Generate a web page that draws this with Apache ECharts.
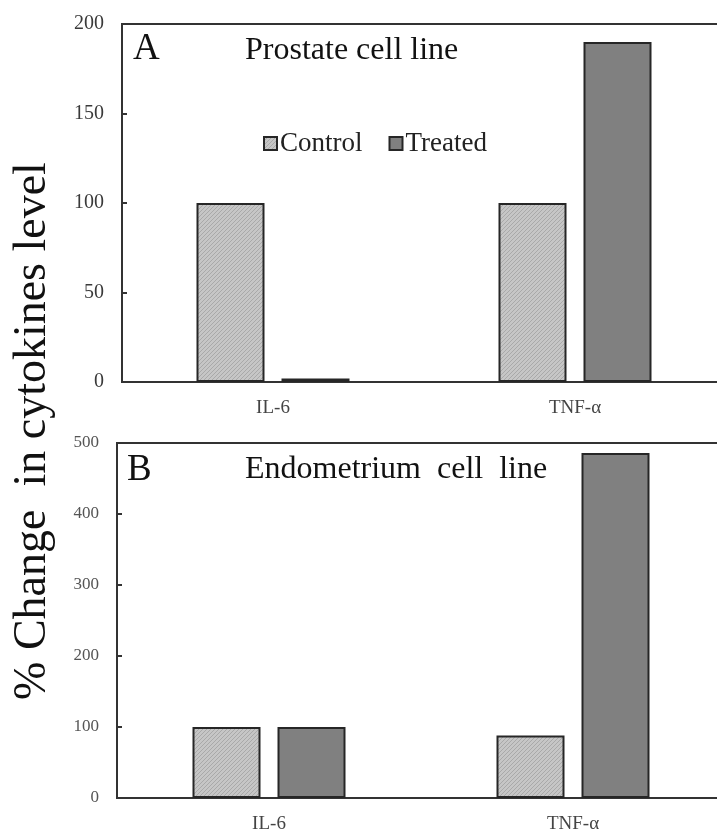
<!DOCTYPE html>
<html>
<head>
<meta charset="utf-8">
<script src="https://cdn.jsdelivr.net/npm/echarts@6/dist/echarts.min.js"></script>
<style>
html,body{margin:0;padding:0;background:#fff;}
#chart{width:717px;height:834px;}
</style>
</head>
<body>
<div id="chart"></div>
<script>
// ---- data ----
const categories = ['IL-6', 'TNF-α'];
const seriesNames = ['Control', 'Treated'];
const prostateControl = [100, 100];
const prostateTreated = [2, 190];
const endometriumControl = [100, 88];
const endometriumTreated = [100, 486];
const prostateTicks = {min: 0, max: 200, interval: 50};
const endometriumTicks = {min: 0, max: 500, interval: 100};

// ---- styling helpers ----
const SERIF = '"Liberation Serif", "Times New Roman", serif';
function hatch() {
  const c = document.createElement('canvas');
  c.width = 4; c.height = 4;
  const g = c.getContext('2d');
  g.fillStyle = '#c6c6c6';
  g.fillRect(0, 0, 4, 4);
  g.strokeStyle = '#a9a9a9';
  g.lineWidth = 1;
  g.beginPath();
  g.moveTo(0, 4); g.lineTo(4, 0);
  g.moveTo(-1, 1); g.lineTo(1, -1);
  g.moveTo(3, 5); g.lineTo(5, 3);
  g.stroke();
  return {image: c, repeat: 'repeat'};
}
const controlFill = hatch();
const treatedFill = '#808080';
const edge = '#262626';

const chart = echarts.init(document.getElementById('chart'), null, {renderer: 'canvas'});

function xAx(gi) {
  return {
    type: 'category', gridIndex: gi, data: categories,
    axisLine: {lineStyle: {color: '#333', width: 2}},
    axisTick: {show: false},
    axisLabel: {fontFamily: SERIF, fontSize: 19, color: '#444', margin: 17}
  };
}
function yAx(gi, t, fs, col) {
  return {
    type: 'value', gridIndex: gi, min: t.min, max: t.max, interval: t.interval,
    splitLine: {show: false},
    axisLine: {show: true, lineStyle: {color: '#333', width: 2}},
    axisTick: {show: true, inside: true, length: 5, lineStyle: {color: '#333', width: 2}},
    axisLabel: {fontFamily: SERIF, fontSize: fs, color: col, margin: 18}
  };
}
function bar(name, gi, data, fill) {
  return {
    name: name, type: 'bar', xAxisIndex: gi, yAxisIndex: gi, data: data,
    barWidth: 68, barGap: '25%',
    itemStyle: {color: fill, borderColor: edge, borderWidth: 2},
    emphasis: {disabled: true}
  };
}

const option = {
  animation: false,
  backgroundColor: '#fff',
  grid: [
    {left: 122, top: 24, width: 604, height: 358, outerBoundsMode: 'none', containLabel: false,
     show: true, borderColor: '#333', borderWidth: 2},
    {left: 117, top: 443, width: 608, height: 355, outerBoundsMode: 'none', containLabel: false,
     show: true, borderColor: '#333', borderWidth: 2}
  ],
  xAxis: [xAx(0), xAx(1)],
  yAxis: [yAx(0, prostateTicks, 20, '#3a3a3a'), yAx(1, endometriumTicks, 17, '#555')],
  legend: {
    data: seriesNames,
    left: 258, top: 125,
    icon: 'rect',
    itemWidth: 13, itemHeight: 13, itemGap: 26,
    textStyle: {fontFamily: SERIF, fontSize: 27, color: '#222', padding: [0, 0, 0, -2]}
  },
  series: [
    bar(seriesNames[0], 0, prostateControl, controlFill),
    bar(seriesNames[1], 0, prostateTreated, treatedFill),
    bar(seriesNames[0], 1, endometriumControl, controlFill),
    bar(seriesNames[1], 1, endometriumTreated, treatedFill)
  ],
  graphic: [
    {type: 'text', x: 133, y: 49, style: {text: 'A', font: '37px ' + SERIF, fill: '#111', verticalAlign: 'middle'}},
    {type: 'text', x: 245, y: 51, style: {text: 'Prostate cell line', font: '32px ' + SERIF, fill: '#111', verticalAlign: 'middle'}},
    {type: 'text', x: 127, y: 470, style: {text: 'B', font: '37px ' + SERIF, fill: '#111', verticalAlign: 'middle'}},
    {type: 'text', x: 245, y: 470, style: {text: 'Endometrium  cell  line', font: '32px ' + SERIF, fill: '#111', verticalAlign: 'middle'}},
    {type: 'text', x: 33, y: 431, rotation: Math.PI / 2,
     style: {text: '% Change  in cytokines level', font: '46px ' + SERIF, fill: '#111', align: 'center', verticalAlign: 'middle'}}
  ]
};
chart.setOption(option);
</script>
</body>
</html>
